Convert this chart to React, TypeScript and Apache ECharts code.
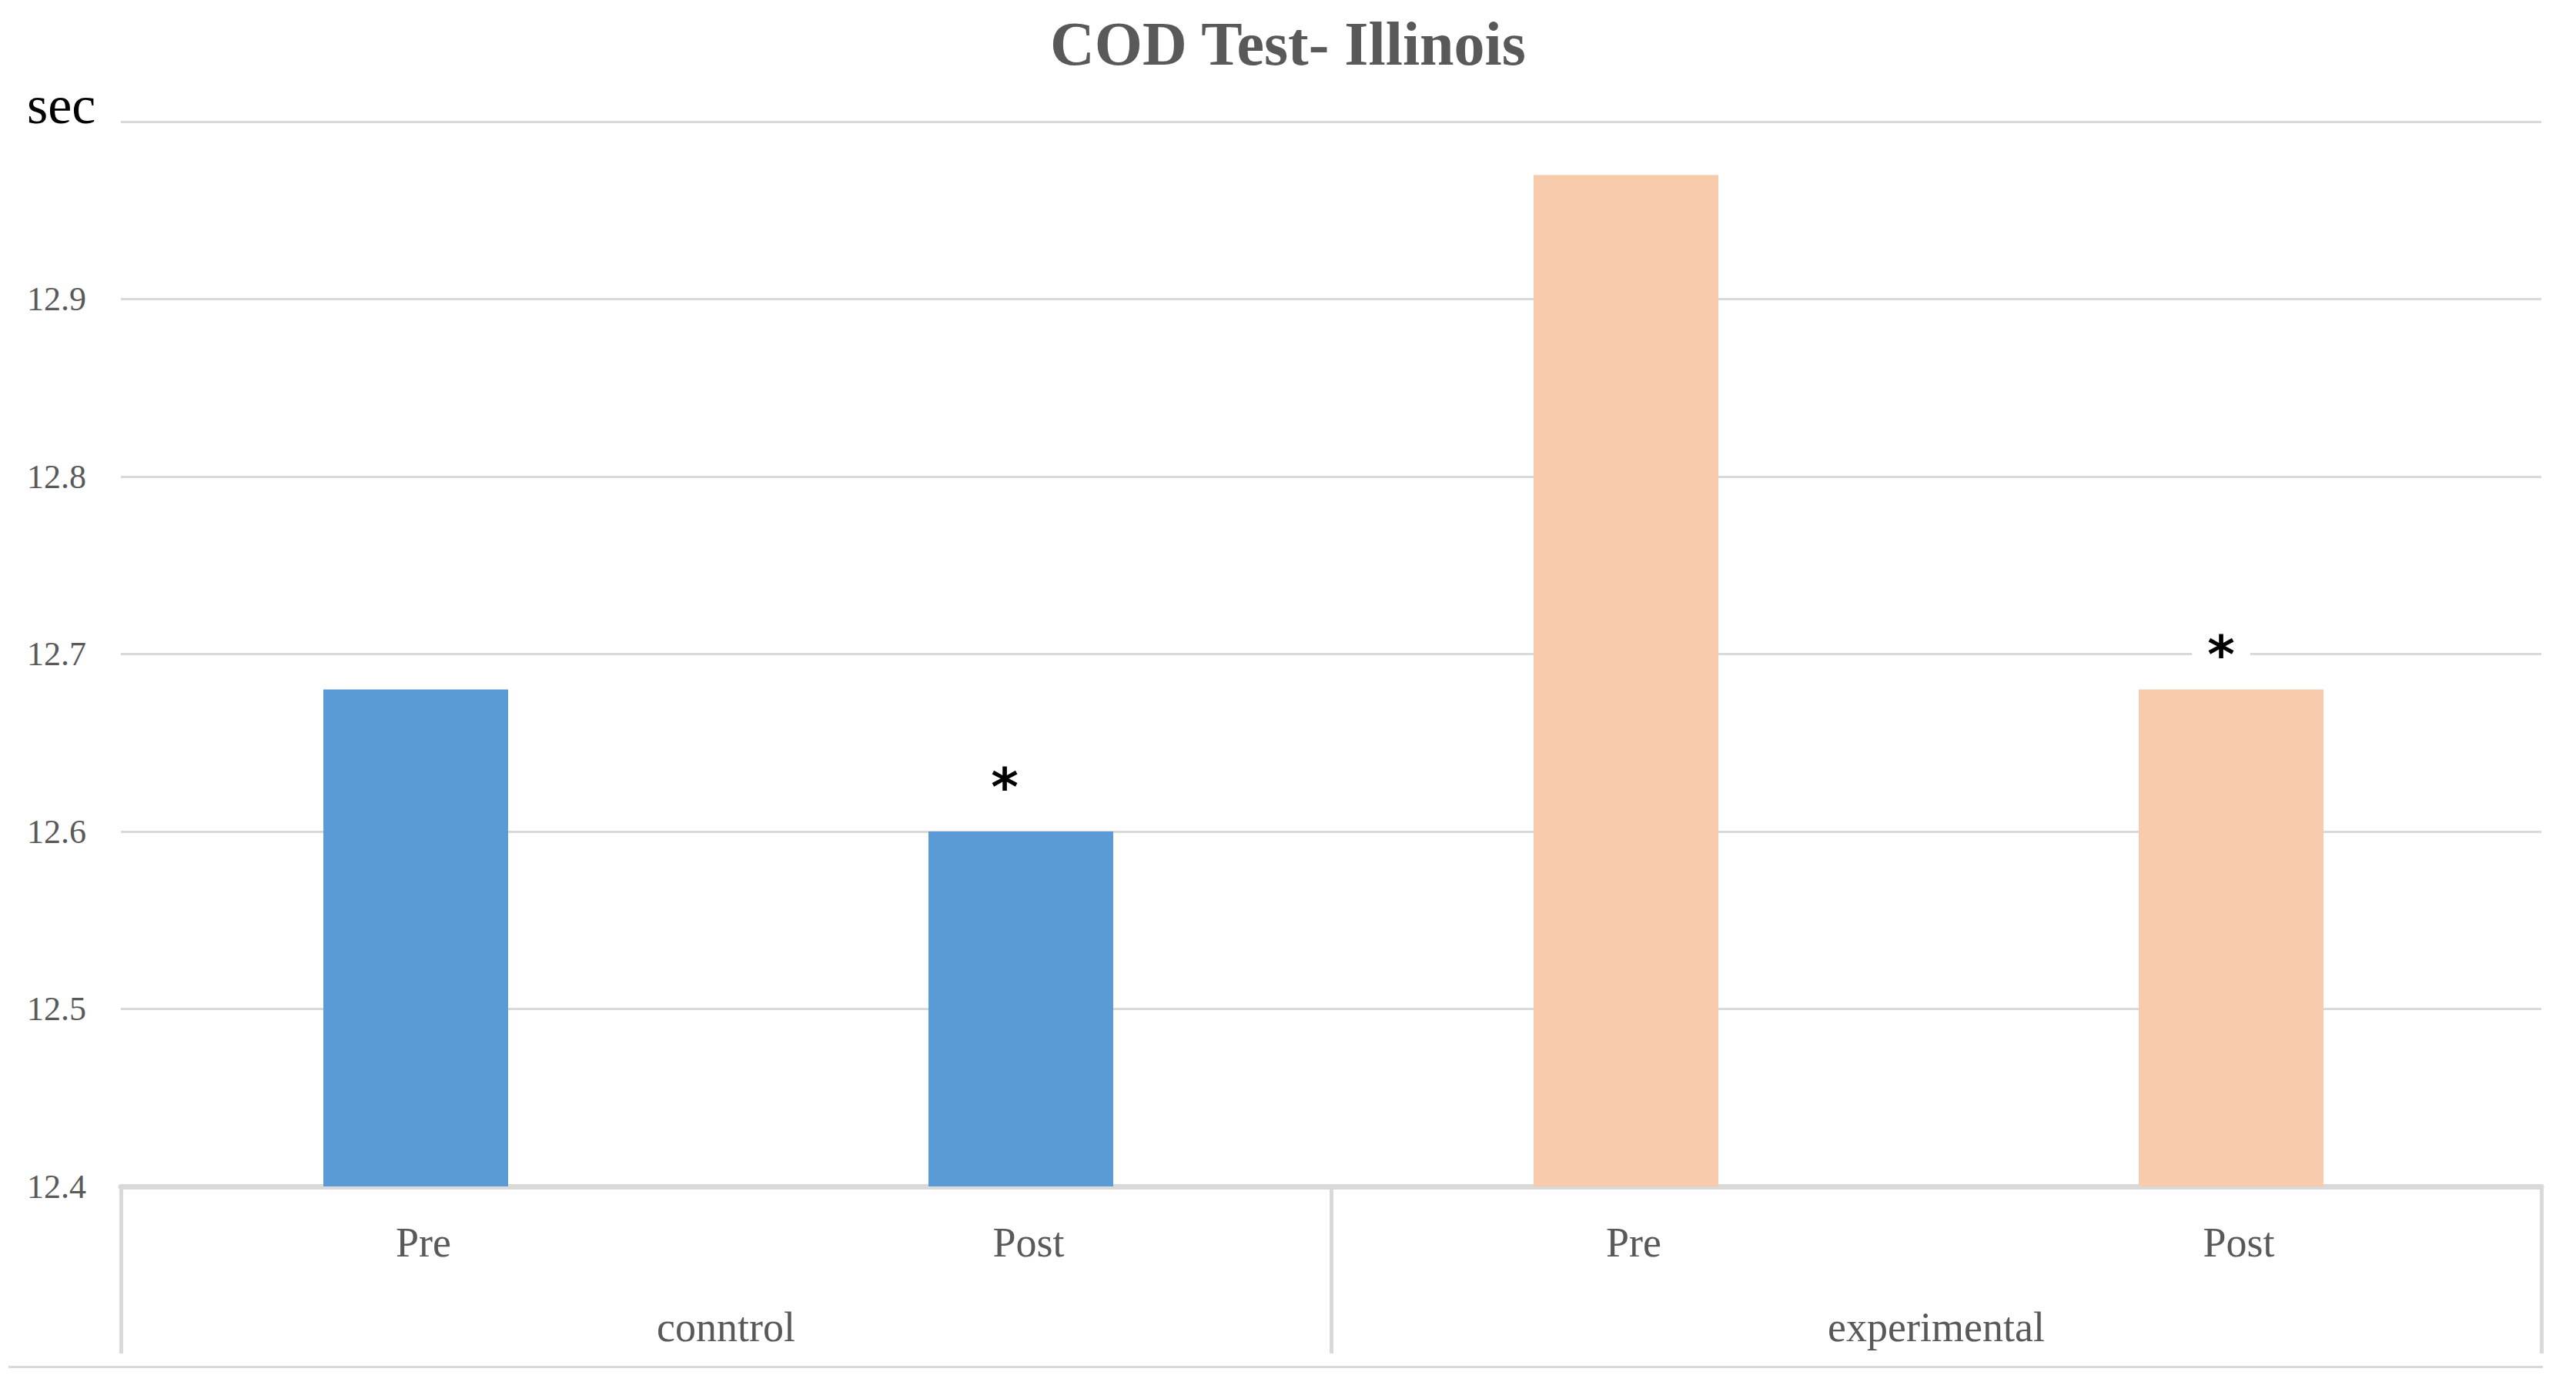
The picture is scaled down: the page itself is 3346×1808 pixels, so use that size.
import React, { useEffect, useRef } from 'react';
import * as echarts from 'echarts';

const categories = ['Pre', 'Post', 'Pre', 'Post'];
const groups = ['conntrol', 'experimental'];
const values = [12.68, 12.6, 12.97, 12.68];
const barColors = ['#5B9BD5', '#5B9BD5', '#F8CBAD', '#F8CBAD'];
const significant = [false, true, false, true];
const yMin = 12.4;
const yMax = 13.0;
const yStep = 0.1;
const titleText = 'COD Test- Illinois';
const unitText = 'sec';

export default function App() {
  const ref = useRef<HTMLDivElement>(null);
  useEffect(() => {
    const chart = echarts.init(ref.current as HTMLDivElement, null, { renderer: 'svg' });
    const serif = '"Liberation Serif", serif';
    const starOffsets = [[0, 0], [-21, -58], [0, 0], [-13, -45]];
    const option: any = {
      animation: false,
      backgroundColor: '#ffffff',
      title: {
        text: titleText,
        left: 'center',
        top: 17,
        padding: 0,
        textStyle: { fontFamily: serif, fontSize: 80, lineHeight: 80, fontWeight: 'bold', color: '#595959' },
      },
      grid: { left: 157, right: 45, top: 158, bottom: 267, containLabel: false },
      xAxis: [
        {
          type: 'category',
          data: categories,
          position: 'bottom',
          axisLine: { show: true, lineStyle: { color: '#D9D9D9', width: 7 } },
          axisTick: { show: false },
          splitLine: { show: false },
          axisLabel: { interval: 0, color: '#595959', fontFamily: serif, fontSize: 54, lineHeight: 54, margin: 46 },
        },
        {
          type: 'category',
          data: groups,
          position: 'bottom',
          axisLine: { show: false },
          axisTick: { show: true, interval: 0, length: 217, lineStyle: { color: '#D9D9D9', width: 5 } },
          splitLine: { show: false },
          axisLabel: { interval: 0, color: '#595959', fontFamily: serif, fontSize: 54, lineHeight: 54, margin: 156 },
        },
      ],
      yAxis: {
        type: 'value',
        min: yMin,
        max: yMax,
        interval: yStep,
        axisLine: { show: false },
        axisTick: { show: false },
        splitLine: { show: true, lineStyle: { color: '#D9D9D9', width: 3 } },
        axisLabel: {
          color: '#595959',
          fontFamily: serif,
          fontSize: 44,
          margin: 45,
          showMaxLabel: false,
          formatter: (v: number) => (v >= yMax - 1e-9 ? '' : v.toFixed(1)),
        },
      },
      graphic: [
        {
          type: 'text',
          style: {
            text: unitText,
            x: 35,
            y: 136,
            fill: '#000000',
            fontFamily: serif,
            fontSize: 70,
            textAlign: 'left',
            textVerticalAlign: 'middle',
          },
        },
        {
          type: 'line',
          shape: { x1: 11, y1: 1775.5, x2: 3303, y2: 1775.5 },
          style: { stroke: '#D9D9D9', lineWidth: 3 },
        },
      ],
      series: [
        {
          type: 'bar',
          name: 'COD',
          xAxisIndex: 0,
          yAxisIndex: 0,
          barWidth: 240,
          barGap: '7.92%',
          data: values.map((v, i) => ({
            value: v,
            itemStyle: { color: barColors[i] },
            label: significant[i] ? { show: true, offset: starOffsets[i] } : { show: false },
          })),
          label: {
            show: false,
            position: 'top',
            distance: 0,
            formatter: '*',
            fontFamily: '"DejaVu Sans", sans-serif',
            fontWeight: 'bold',
            fontSize: 68,
            lineHeight: 68,
            color: '#000000',
            align: 'center',
            verticalAlign: 'middle',
            backgroundColor: '#ffffff',
            padding: [0, 20],
          },
        },
        {
          type: 'bar',
          name: 'spacer',
          xAxisIndex: 0,
          yAxisIndex: 0,
          barWidth: 1,
          barGap: '7.92%',
          silent: true,
          data: categories.map(() => '-'),
        },
      ],
    };
    chart.setOption(option);
    return () => chart.dispose();
  }, []);
  return (
    <div
      ref={ref}
      style={{ position: 'absolute', left: 0, top: 0, width: 3346, height: 1808, background: '#fff' }}
    />
  );
}
